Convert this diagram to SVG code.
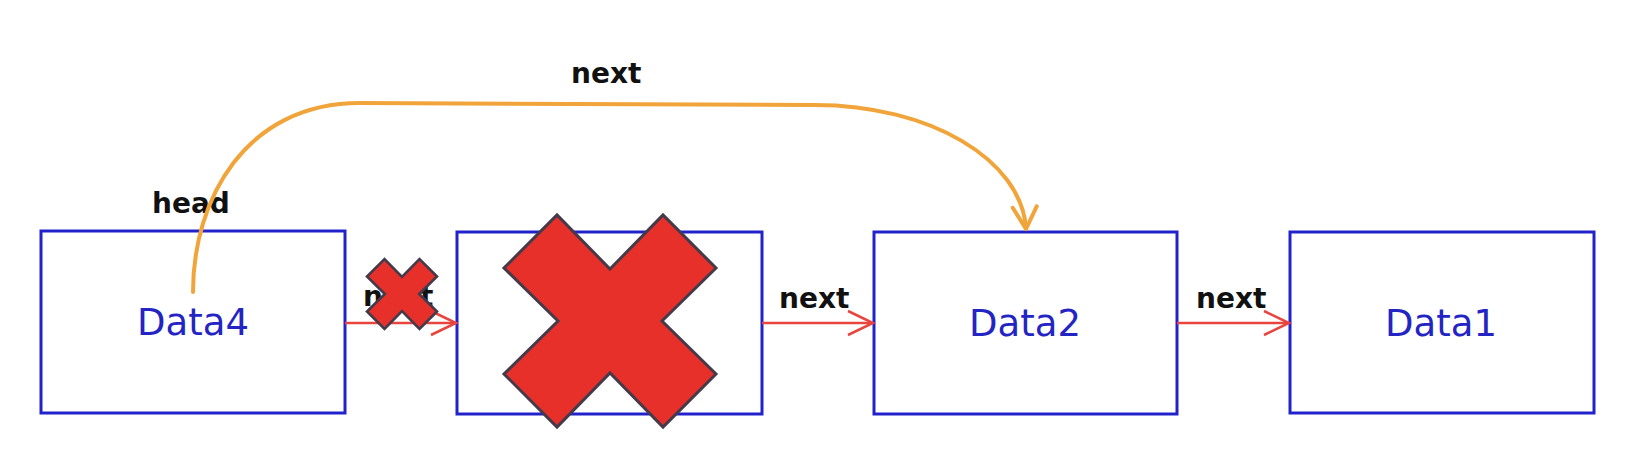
<svg xmlns="http://www.w3.org/2000/svg" width="1636" height="450" viewBox="0 0 1636 450">
<style>
.box{fill:#ffffff;stroke:#2222cc;stroke-width:3}
.data{font-family:"DejaVu Sans",Verdana,sans-serif;font-size:37px;fill:#2424c4;text-anchor:middle}
.lbl{font-family:"DejaVu Sans","Liberation Sans",sans-serif;font-weight:bold;font-size:28px;fill:#111111}
.link{fill:none;stroke:#e8453e;stroke-width:2.5}
.arc{fill:none;stroke:#f0a43a;stroke-width:4;stroke-linecap:round}
.xmark{fill:#e8302a;stroke:#453a4a;stroke-linejoin:miter}
</style>
<defs>
<marker id="redHead" viewBox="-30 -16 34 32" markerWidth="34" markerHeight="32" refX="0" refY="0" orient="auto" markerUnits="userSpaceOnUse">
<path d="M-25,-12 L0,0 L-25,12" fill="none" stroke="#e8453e" stroke-width="2.5"/>
</marker>
<marker id="orangeHead" viewBox="-30 -16 34 32" markerWidth="34" markerHeight="32" refX="0" refY="0" orient="auto" markerUnits="userSpaceOnUse">
<path d="M-22,-12 L0,0 L-22,12" fill="none" stroke="#f0a43a" stroke-width="4" stroke-linecap="round" stroke-linejoin="round"/>
</marker>
<polygon id="xshape" points="0,-52 53,-106 106,-53 52,0 106,53 53,106 0,52 -53,106 -106,53 -52,0 -106,-53 -53,-106"/>
</defs>
<rect width="1636" height="450" fill="#ffffff"/>
<g id="node-data4">
<rect class="box" x="41" y="231" width="304" height="182"/>
<text class="data" x="193" y="335">Data4</text>
</g>
<g id="node-deleted">
<rect class="box" x="457" y="232" width="305" height="182"/>
</g>
<g id="node-data2">
<rect class="box" x="874" y="232" width="303" height="182"/>
<text class="data" x="1025" y="336">Data2</text>
</g>
<g id="node-data1">
<rect class="box" x="1290" y="232" width="304" height="181"/>
<text class="data" x="1441" y="336">Data1</text>
</g>
<g id="connectors">
<line class="link" x1="345" y1="323" x2="456" y2="323" marker-end="url(#redHead)"/>
<line class="link" x1="762" y1="323" x2="873" y2="323" marker-end="url(#redHead)"/>
<line class="link" x1="1177" y1="323" x2="1289" y2="323" marker-end="url(#redHead)"/>
<text class="lbl" x="363" y="306">next</text>
<text class="lbl" x="779" y="308">next</text>
<text class="lbl" x="1196" y="308">next</text>
<text class="lbl" x="152" y="213">head</text>
<text class="lbl" x="571" y="83">next</text>
<path class="arc" d="M193,292 C193,200 245,103 360,103 L815,105 C930,105 1022,160 1026,229" marker-end="url(#orangeHead)"/>
</g>
<g id="delete-marks">
<use href="#xshape" class="xmark" transform="translate(402,294) scale(0.33)" style="stroke-width:8"/>
<use href="#xshape" class="xmark" transform="translate(610,321)" style="stroke-width:3"/>
</g>
</svg>
